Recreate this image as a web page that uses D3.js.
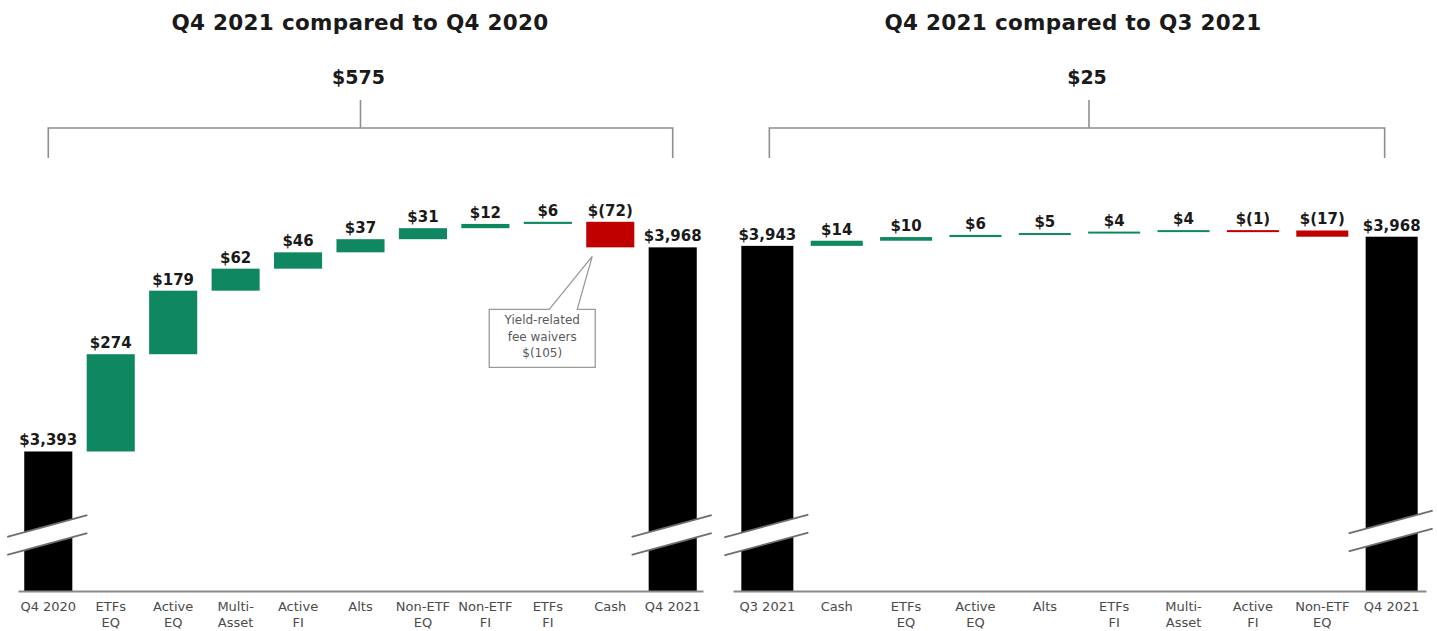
<!DOCTYPE html>
<html>
<head>
<meta charset="utf-8">
<script src="https://cdn.jsdelivr.net/npm/d3@7"></script>
<style>
  html, body { margin: 0; padding: 0; background: #fff; }
  svg { display: block; }
</style>
</head>
<body>
<svg id="chart" width="1437" height="631"></svg>
<script>
// ---- Year-over-year bridge: Q4 2020 -> Q4 2021 ($ billions) ----
const yoyTitle = "Q4 2021 compared to Q4 2020";
const yoyTotalLabel = "$575";
const yoyCategories = ["Q4 2020", "ETFs\nEQ", "Active\nEQ", "Multi-\nAsset", "Active\nFI", "Alts",
                       "Non-ETF\nEQ", "Non-ETF\nFI", "ETFs\nFI", "Cash", "Q4 2021"];
const yoyStart = 3393;
const yoyChanges = [274, 179, 62, 46, 37, 31, 12, 6, -72];
const yoyEnd = 3968;
const yoyLabels = ["$3,393", "$274", "$179", "$62", "$46", "$37", "$31", "$12", "$6", "$(72)", "$3,968"];
const feeWaiverNote = ["Yield-related", "fee waivers", "$(105)"];

// ---- Quarter-over-quarter bridge: Q3 2021 -> Q4 2021 ($ billions) ----
const qoqTitle = "Q4 2021 compared to Q3 2021";
const qoqTotalLabel = "$25";
const qoqCategories = ["Q3 2021", "Cash", "ETFs\nEQ", "Active\nEQ", "Alts", "ETFs\nFI",
                       "Multi-\nAsset", "Active\nFI", "Non-ETF\nEQ", "Q4 2021"];
const qoqStart = 3943;
const qoqChanges = [14, 10, 6, 5, 4, 4, -1, -17];
const qoqEnd = 3968;
const qoqLabels = ["$3,943", "$14", "$10", "$6", "$5", "$4", "$4", "$(1)", "$(17)", "$3,968"];

// Visible value window of the broken axis
const axisDomain = [3000, 4000];

// ---- styling ----
const BASE_Y = 591;
const COLORS = { total: "#000000", up: "#0f8760", down: "#c00000" };
const MIN_BAR = 2;
const LABEL_FONT = "'DejaVu Sans', sans-serif";

const svg = d3.select("#chart");

function buildSteps(categories, start, changes, end, labels) {
  const steps = [{ cat: categories[0], lo: axisDomain[0], hi: start, kind: "total", label: labels[0] }];
  let run = start;
  changes.forEach((v, i) => {
    const from = run;
    run += v;
    steps.push({
      cat: categories[i + 1],
      lo: Math.min(from, run),
      hi: Math.max(from, run),
      kind: v >= 0 ? "up" : "down",
      label: labels[i + 1]
    });
  });
  steps.push({ cat: categories[categories.length - 1], lo: axisDomain[0], hi: end, kind: "total",
               label: labels[labels.length - 1] });
  return steps;
}

function drawBreak(g, xl, w, cy) {
  const x0 = xl - 17, x1 = xl + w + 15;
  const rise = (x1 - x0) * 0.27;
  const half = 9;
  const upper = [[x0, cy + rise / 2 - half], [x1, cy - rise / 2 - half]];
  const lower = [[x0, cy + rise / 2 + half], [x1, cy - rise / 2 + half]];
  g.append("path")
    .attr("d", `M${upper[0]}L${upper[1]}L${lower[1]}L${lower[0]}Z`)
    .attr("fill", "#fff");
  [upper, lower].forEach(l => {
    g.append("line")
      .attr("x1", l[0][0]).attr("y1", l[0][1])
      .attr("x2", l[1][0]).attr("y2", l[1][1])
      .attr("stroke", "#6e6e6e").attr("stroke-width", 1.8);
  });
}

function drawPanel(cfg) {
  const g = svg.append("g");
  const x = d3.scaleBand()
    .domain(cfg.categories)
    .range(cfg.xRange)
    .paddingInner(cfg.padInner)
    .paddingOuter(cfg.padOuter);
  const y = d3.scaleLinear().domain(axisDomain).range([BASE_Y, cfg.yTop]);

  const steps = buildSteps(cfg.categories, cfg.start, cfg.changes, cfg.end, cfg.labels);

  // bars
  g.selectAll("rect.bar")
    .data(steps)
    .join("rect")
    .attr("class", "bar")
    .attr("x", d => x(d.cat))
    .attr("width", x.bandwidth())
    .attr("y", d => y(d.hi))
    .attr("height", d => Math.max(MIN_BAR, y(d.lo) - y(d.hi)))
    .attr("fill", d => COLORS[d.kind]);

  // value labels
  g.selectAll("text.val")
    .data(steps)
    .join("text")
    .attr("class", "val")
    .attr("x", d => x(d.cat) + x.bandwidth() / 2)
    .attr("y", d => y(d.hi) - 6)
    .attr("text-anchor", "middle")
    .attr("font-family", LABEL_FONT)
    .attr("font-weight", "bold")
    .attr("font-size", 15)
    .attr("fill", "#1a1a1a")
    .text(d => d.label);

  // axis breaks on the two total bars
  const first = cfg.categories[0], last = cfg.categories[cfg.categories.length - 1];
  drawBreak(g, x(first), x.bandwidth(), cfg.breakY[0]);
  drawBreak(g, x(last), x.bandwidth(), cfg.breakY[1]);

  // category axis
  const axis = g.append("g")
    .attr("transform", `translate(0,${BASE_Y})`)
    .call(d3.axisBottom(x).tickSize(0).tickSizeOuter(0).tickPadding(11));
  axis.select(".domain").attr("stroke", "#8a8a8a").attr("stroke-width", 2);
  axis.selectAll(".tick text")
    .attr("font-family", LABEL_FONT)
    .attr("font-size", 13)
    .attr("fill", "#4a4a4a")
    .each(function (d) {
      const t = d3.select(this);
      const lines = d.split("\n");
      t.text(null);
      lines.forEach((ln, i) => {
        t.append("tspan")
          .attr("x", 0)
          .attr("dy", i === 0 ? "0.71em" : "1.23em")
          .text(ln);
      });
    })
    .attr("dy", null);

  // bracket spanning start and end totals
  const bx0 = x(first) + x.bandwidth() / 2 + cfg.bracketInset[0];
  const bx1 = x(last) + x.bandwidth() / 2 - cfg.bracketInset[1];
  const bmid = (bx0 + bx1) / 2 + cfg.bracketShift;
  g.append("path")
    .attr("d", `M${bx0},158V128H${bx1}V158M${bmid},128V100`)
    .attr("fill", "none")
    .attr("stroke", "#8f8f8f")
    .attr("stroke-width", 1.6);

  g.append("text")
    .attr("x", bmid - 2).attr("y", 84)
    .attr("text-anchor", "middle")
    .attr("font-family", LABEL_FONT)
    .attr("font-weight", "bold")
    .attr("font-size", 19)
    .attr("fill", "#1a1a1a")
    .text(cfg.totalLabel);

  g.append("text")
    .attr("x", cfg.titleX).attr("y", 30)
    .attr("text-anchor", "middle")
    .attr("font-family", LABEL_FONT)
    .attr("font-weight", "bold")
    .attr("font-size", 21.5)
    .attr("letter-spacing", 0.3)
    .attr("fill", "#1a1a1a")
    .text(cfg.title);

  return { g, x, y, steps };
}

const left = drawPanel({
  title: yoyTitle, titleX: 360, totalLabel: yoyTotalLabel,
  categories: yoyCategories, start: yoyStart, changes: yoyChanges, end: yoyEnd, labels: yoyLabels,
  xRange: [18, 703], padInner: 0.23, padOuter: 0.1, yTop: 236,
  breakY: [535, 535], bracketInset: [0, 0], bracketShift: 0
});

drawPanel({
  title: qoqTitle, titleX: 1073, totalLabel: qoqTotalLabel,
  categories: qoqCategories, start: qoqStart, changes: qoqChanges, end: qoqEnd, labels: qoqLabels,
  xRange: [733, 1426], padInner: 0.25, padOuter: 0.12, yTop: 225,
  breakY: [535, 531], bracketInset: [2, 7], bracketShift: 12
});

// callout under the Cash bar
(function () {
  const cash = left.steps.find(s => s.cat === "Cash");
  const tipX = left.x("Cash") + 6;
  const tipY = left.y(cash.lo) + 9;
  const boxL = tipX - 103, boxR = tipX + 3, boxT = tipY + 53, boxB = boxT + 58;
  const baseL = tipX - 43, baseR = tipX - 15;
  left.g.append("path")
    .attr("d", `M${boxL},${boxT}H${baseL}L${tipX},${tipY}L${baseR},${boxT}H${boxR}V${boxB}H${boxL}Z`)
    .attr("fill", "#fff")
    .attr("stroke", "#9a9a9a")
    .attr("stroke-width", 1.3);
  const t = left.g.append("text")
    .attr("x", (boxL + boxR) / 2)
    .attr("y", boxT + 15)
    .attr("text-anchor", "middle")
    .attr("font-family", LABEL_FONT)
    .attr("font-size", 12)
    .attr("fill", "#5a5a5a");
  feeWaiverNote.forEach((ln, i) => {
    t.append("tspan").attr("x", (boxL + boxR) / 2).attr("dy", i === 0 ? 0 : 16.5).text(ln);
  });
})();
</script>
</body>
</html>
